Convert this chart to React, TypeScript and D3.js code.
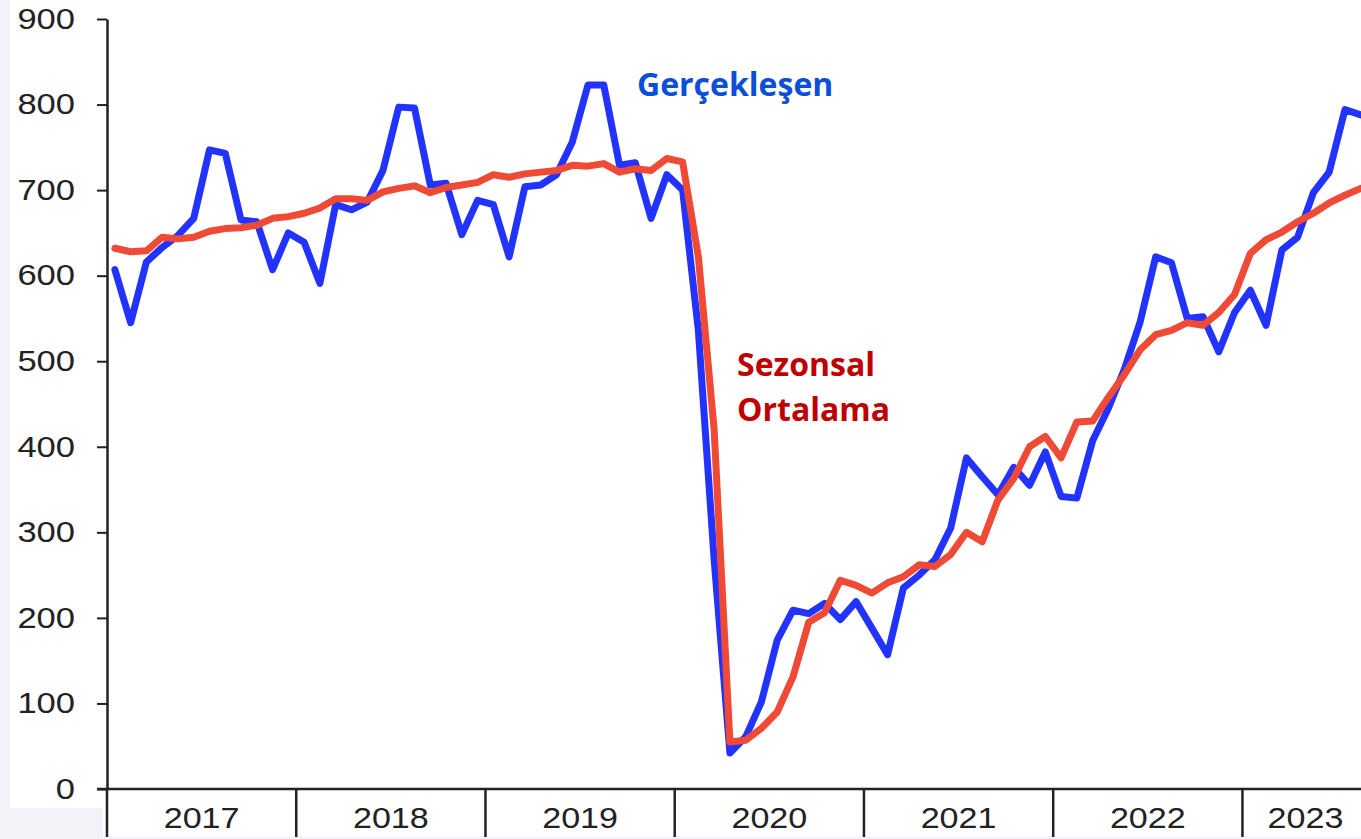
import React, { useRef, useEffect } from 'react'
import * as d3 from 'd3'

// months Jan 2017 .. Aug 2023
const years = ['2017', '2018', '2019', '2020', '2021', '2022', '2023']
const months = years.flatMap(yr => d3.range(1, 13).map(m => `${yr}-${m}`)).slice(0, 80)

const yTicks = [0, 100, 200, 300, 400, 500, 600, 700, 800, 900]

// Gerçekleşen (blue)
const realized = [
  607, 545, 616, 633, 647, 667, 747, 743, 665, 663, 607, 650,
  639, 591, 683, 677, 686, 723, 797, 796, 706, 708, 648, 688,
  683, 622, 704, 706, 718, 756, 823, 823, 729, 732, 667, 718,
  700, 536, 268, 42, 61, 102, 174, 209, 205, 217, 198, 219,
  188, 157, 235, 250, 268, 305, 387, 365, 344, 376, 355, 394,
  342, 340, 407, 445, 490, 545, 622, 615, 550, 552, 511, 557,
  583, 542, 630, 645, 697, 721, 794, 788,
]

// Sezonsal Ortalama (red)
const seasonal = [
  632, 628, 629, 645, 643, 645, 652, 655, 656, 659, 667, 669,
  673, 679, 690, 690, 688, 698, 702, 705, 697, 703, 706, 709,
  718, 715, 719, 721, 723, 729, 728, 731, 721, 725, 723, 737,
  733, 622, 420, 55, 57, 71, 90, 131, 195, 206, 244, 238,
  229, 241, 248, 262, 260, 274, 300, 289, 338, 363, 400, 412,
  387, 429, 430, 458, 484, 513, 531, 536, 545, 542, 557, 578,
  626, 642, 651, 663, 673, 685, 694, 702,
]

const W = 1361
const H = 839
const digitW = 19.2

const Chart = () => {
  const svgRef = useRef<SVGSVGElement | null>(null)

  useEffect(() => {
    const svg = d3.select(svgRef.current)
    svg.selectAll('*').remove()

    const left = 107
    const top = 19
    const base = 789
    const monthW = 15.77

    const x = d3.scaleBand<string>()
      .domain(months)
      .range([left, left + months.length * monthW])
      .padding(0)
    const y = d3.scaleLinear()
      .domain([0, 900])
      .range([base, top])

    // backgrounds
    svg.append('rect').attr('width', W).attr('height', H).attr('fill', '#f2f2f8')
    svg.append('rect').attr('x', 10).attr('y', 0).attr('width', W - 10).attr('height', 808).attr('fill', '#fff')
    svg.append('rect').attr('x', 103).attr('y', 0).attr('width', W - 103).attr('height', 837).attr('fill', '#fff')

    // y axis
    const yAxis = d3.axisLeft(y)
      .tickValues(yTicks)
      .tickSize(10)
      .tickSizeOuter(0)
      .tickPadding(22)
    const gy = svg.append('g')
      .attr('transform', `translate(${left}, 0)`)
      .call(yAxis)
    gy.attr('font-family', 'Liberation Sans, Arial').attr('font-size', 29)
    gy.selectAll('line').attr('stroke', '#222').attr('stroke-width', 2)
    gy.select('.domain').attr('stroke', '#222').attr('stroke-width', 2.5)
    gy.selectAll<SVGTextElement, number>('text')
      .attr('fill', '#222')
      .attr('textLength', d => String(d).length * digitW)
      .attr('lengthAdjust', 'spacingAndGlyphs')

    // x axis: baseline + year separators
    svg.append('line')
      .attr('x1', left - 10).attr('x2', W)
      .attr('y1', base).attr('y2', base)
      .attr('stroke', '#222').attr('stroke-width', 2.5)

    const axisEnd = left + months.length * monthW
    years.forEach(yr => {
      const ms = months.filter(m => m.startsWith(yr))
      const x0 = x(ms[0]) as number
      const x1 = (x(ms[ms.length - 1]) as number) + x.bandwidth()
      svg.append('line')
        .attr('x1', x0).attr('x2', x0)
        .attr('y1', base).attr('y2', 837)
        .attr('stroke', '#222').attr('stroke-width', 2.5)
      svg.append('text')
        .attr('x', (x0 + Math.min(x1, axisEnd)) / 2)
        .attr('y', 828)
        .attr('text-anchor', 'middle')
        .attr('font-family', 'Liberation Sans, Arial')
        .attr('font-size', 29)
        .attr('fill', '#222')
        .attr('textLength', yr.length * digitW - 1)
        .attr('lengthAdjust', 'spacingAndGlyphs')
        .text(yr)
    })

    const line = d3.line<number>()
      .x((_, i) => (x(months[i]) as number) + x.bandwidth() / 2)
      .y(v => y(v))

    svg.append('path')
      .datum(realized)
      .attr('d', line)
      .attr('fill', 'none')
      .attr('stroke', '#2233ff')
      .attr('stroke-width', 7)
      .attr('stroke-linejoin', 'round')
      .attr('stroke-linecap', 'round')

    svg.append('path')
      .datum(seasonal)
      .attr('d', line)
      .attr('fill', 'none')
      .attr('stroke', '#ef4a36')
      .attr('stroke-width', 7)
      .attr('stroke-linejoin', 'round')
      .attr('stroke-linecap', 'round')

    // annotations
    svg.append('text')
      .attr('x', 637).attr('y', 96)
      .attr('font-family', 'Open Sans').attr('font-weight', 700).attr('font-size', 32)
      .attr('fill', '#0b4fd8')
      .text('Gerçekleşen')

    const lbl = svg.append('text')
      .attr('font-family', 'Open Sans').attr('font-weight', 700).attr('font-size', 32)
      .attr('fill', '#c00000')
    lbl.append('tspan').attr('x', 737).attr('y', 376).text('Sezonsal')
    lbl.append('tspan').attr('x', 737).attr('y', 421).text('Ortalama')
  })

  return (
    <div style={{ position: 'absolute', left: 0, top: 0 }}>
      <svg ref={svgRef} width={W} height={H} style={{ display: 'block' }} />
    </div>
  )
}

export default function App() {
  return <Chart />
}
